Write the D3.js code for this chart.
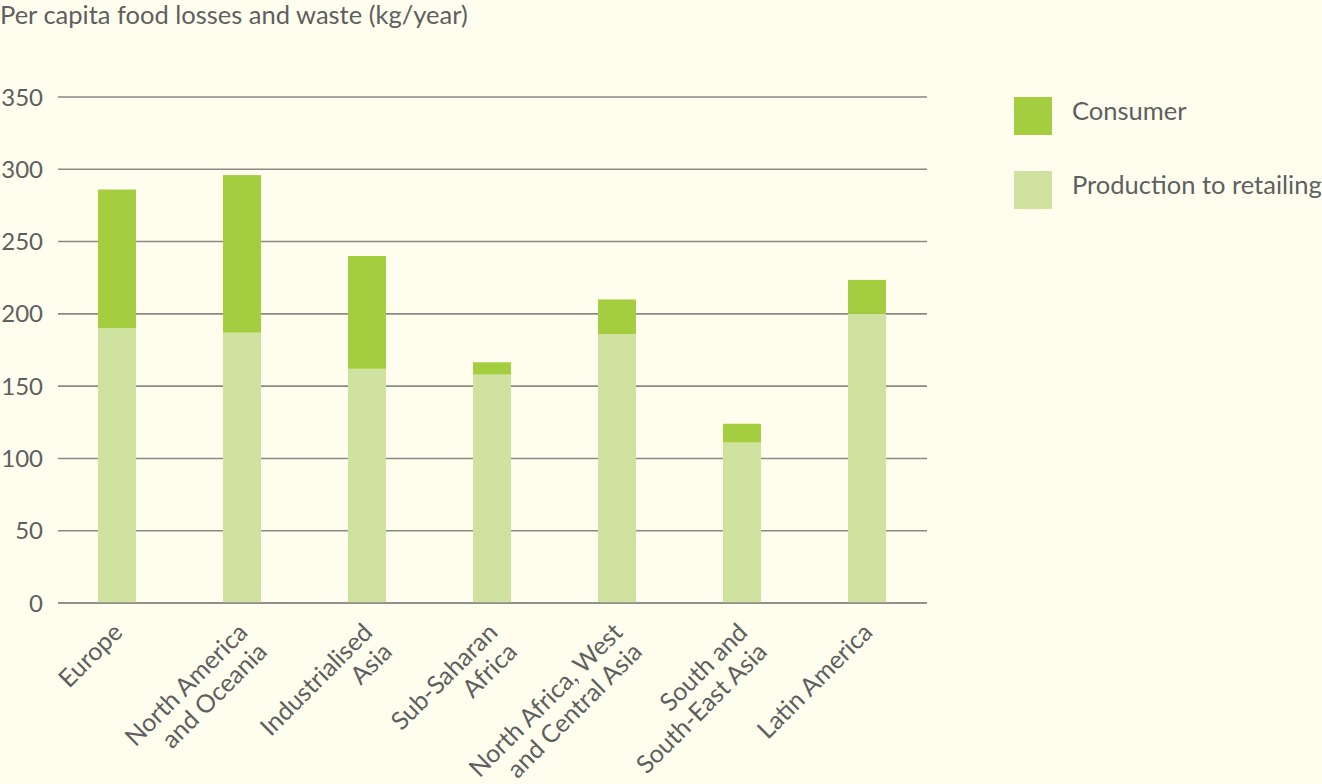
<!DOCTYPE html>
<html>
<head>
<meta charset="utf-8">
<script src="https://cdn.jsdelivr.net/npm/d3@7"></script>
<style>
  body { margin: 0; background: #fffeee; }
  svg { display: block; font-family: Lato, "Open Sans", sans-serif; }
</style>
</head>
<body>
<div id="chart"></div>
<script>
// Data
var regions = [
  ["Europe"],
  ["North America", "and Oceania"],
  ["Industrialised", "Asia"],
  ["Sub-Saharan", "Africa"],
  ["North Africa, West", "and Central Asia"],
  ["South and", "South-East Asia"],
  ["Latin America"]
];
var production = [190, 187, 162, 158, 186, 111, 200];
var consumer = [96, 109, 78, 8.5, 24, 13, 23.5];
var yTicks = [0, 50, 100, 150, 200, 250, 300, 350];
var seriesNames = ["Consumer", "Production to retailing"];

var W = 1322, H = 784;
var textColor = "#5e5f61", gridColor = "#8a8a84";
var colors = {"Consumer": "#a4ce40", "Production to retailing": "#d0e29f"};

var svg = d3.select("#chart").append("svg")
  .attr("width", W).attr("height", H);

svg.append("rect").attr("width", W).attr("height", H).attr("fill", "#fffeee");

// Title
svg.append("text")
  .attr("x", 0).attr("y", 24)
  .attr("fill", textColor)
  .style("font-size", "25.5px")
  .text("Per capita food losses and waste (kg/year)");

// Scales
var x = d3.scaleBand()
  .domain(regions.map(function(d) { return d.join(" "); }))
  .range([54.5, 929.5])
  .paddingInner(0.696)
  .paddingOuter(0.348);

var y = d3.scaleLinear()
  .domain([0, 350])
  .range([603, 97]);

// Gridlines
svg.append("g")
  .selectAll("line")
  .data(yTicks)
  .enter()
  .append("line")
    .attr("x1", 58).attr("x2", 927)
    .attr("y1", function(d) { return y(d); })
    .attr("y2", function(d) { return y(d); })
    .attr("stroke", gridColor)
    .attr("stroke-width", 1.6);

// Y tick labels
svg.append("g")
  .selectAll("text")
  .data(yTicks)
  .enter()
  .append("text")
    .attr("x", 43)
    .attr("y", function(d) { return y(d); })
    .attr("dy", "0.36em")
    .attr("text-anchor", "end")
    .attr("fill", textColor)
    .style("font-size", "24px")
    .text(function(d) { return d; });

// Stacked bars
var table = regions.map(function(r, i) {
  return {key: r.join(" "), "Production to retailing": production[i], "Consumer": consumer[i]};
});
var stack = d3.stack().keys(["Production to retailing", "Consumer"])(table);

svg.append("g")
  .selectAll("g")
  .data(stack)
  .enter()
  .append("g")
    .attr("fill", function(d) { return colors[d.key]; })
  .selectAll("rect")
  .data(function(d) { return d; })
  .enter()
  .append("rect")
    .attr("x", function(d) { return x(d.data.key); })
    .attr("width", x.bandwidth())
    .attr("y", function(d) { return y(d[1]); })
    .attr("height", function(d) { return y(d[0]) - y(d[1]); });

// Baseline on top of bars
svg.append("line")
  .attr("x1", 58).attr("x2", 927)
  .attr("y1", y(0)).attr("y2", y(0))
  .attr("stroke", gridColor)
  .attr("stroke-width", 1.6);

// X labels (rotated)
var labels = svg.append("g")
  .selectAll("text")
  .data(regions)
  .enter()
  .append("text")
    .attr("transform", function(d) {
      var cx = x(d.join(" ")) + x.bandwidth() / 2;
      return "translate(" + (cx + 7) + "," + 634 + ") rotate(-45)";
    })
    .attr("text-anchor", "end")
    .attr("fill", textColor)
    .style("font-size", "25px");

labels.selectAll("tspan")
  .data(function(d) { return d; })
  .enter()
  .append("tspan")
    .attr("x", 0)
    .attr("dy", function(d, i) { return i === 0 ? 0 : "1.1em"; })
    .text(function(d) { return d; });

// Legend
var legend = svg.append("g")
  .selectAll("g")
  .data(seriesNames)
  .enter()
  .append("g")
    .attr("transform", function(d, i) { return "translate(1014," + (97 + i * 74) + ")"; });

legend.append("rect")
  .attr("width", 38).attr("height", 38)
  .attr("fill", function(d) { return colors[d]; });

legend.append("text")
  .attr("x", 58).attr("y", 22.5)
  .attr("fill", textColor)
  .style("font-size", "25.5px")
  .text(function(d) { return d; });
</script>
</body>
</html>
